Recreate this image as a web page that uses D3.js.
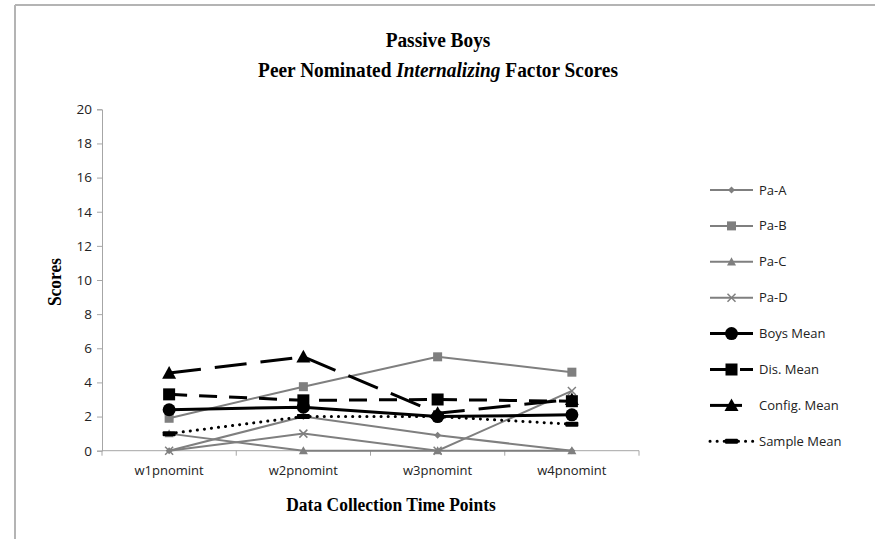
<!DOCTYPE html>
<html>
<head>
<meta charset="utf-8">
<script src="https://cdn.jsdelivr.net/npm/d3@7"></script>
<style>
  html, body { margin: 0; padding: 0; background: #fff; }
  svg { display: block; }
</style>
</head>
<body>
<svg id="chart" width="875" height="539"></svg>
<script>
// Time points and y ticks
const categories = ["w1pnomint", "w2pnomint", "w3pnomint", "w4pnomint"];
const yTicks = [0, 2, 4, 6, 8, 10, 12, 14, 16, 18, 20];

// Series values (peer nominated internalizing factor scores)
const paA = [0, 2.0, 0.9, 0];
const paB = [1.9, 3.75, 5.5, 4.6];
const paC = [1.0, 0, 0, 0];
const paD = [0, 1.0, 0, 3.5];
const boysMean = [2.4, 2.55, 2.0, 2.1];
const disMean = [3.3, 2.95, 3.0, 2.9];
const configMean = [4.55, 5.5, 2.2, 3.0];
const sampleMean = [1.0, 2.0, 2.0, 1.55];

const seriesNames = ["Pa-A", "Pa-B", "Pa-C", "Pa-D", "Boys Mean", "Dis. Mean", "Config. Mean", "Sample Mean"];

const GRAY = "#7f7f7f";
const series = [
  { name: seriesNames[0], values: paA, color: GRAY, width: 2, dash: null, marker: "diamond", size: 7 },
  { name: seriesNames[1], values: paB, color: GRAY, width: 2, dash: null, marker: "square", size: 9 },
  { name: seriesNames[2], values: paC, color: GRAY, width: 2, dash: null, marker: "triangle", size: 9 },
  { name: seriesNames[3], values: paD, color: GRAY, width: 2, dash: null, marker: "x", size: 8 },
  { name: seriesNames[4], values: boysMean, color: "#000", width: 3, dash: null, marker: "circle", size: 13 },
  { name: seriesNames[5], values: disMean, color: "#000", width: 3, dash: "18,12", marker: "square", size: 12 },
  { name: seriesNames[6], values: configMean, color: "#000", width: 3, dash: "32,14", marker: "triangle", size: 14 },
  { name: seriesNames[7], values: sampleMean, color: "#000", width: 3, dash: "0.1,7", cap: "round", marker: "dash", size: 13 }
];

const svg = d3.select("#chart");

// Frame edges
svg.append("line").attr("x1", 15).attr("x2", 875).attr("y1", 5).attr("y2", 5)
  .attr("stroke", "#b4b4b4").attr("stroke-width", 2);
svg.append("line").attr("x1", 15).attr("x2", 15).attr("y1", 5).attr("y2", 539)
  .attr("stroke", "#b4b4b4").attr("stroke-width", 2);

const plot = { left: 102, right: 639, top: 109.3, bottom: 450.7 };

const x = d3.scaleBand().domain(categories).range([plot.left, plot.right]);
const y = d3.scaleLinear().domain([0, 20]).range([plot.bottom, plot.top]);
const cx = c => x(c) + x.bandwidth() / 2;

const tickFont = "'Open Sans', 'Noto Sans', sans-serif";

// Y axis
const yAxis = svg.append("g").attr("transform", `translate(${plot.left},0)`)
  .call(d3.axisLeft(y).tickValues(yTicks).tickSize(5).tickPadding(5));
yAxis.select(".domain").attr("stroke", "#a6a6a6");
yAxis.selectAll(".tick line").attr("stroke", "#a6a6a6");
yAxis.selectAll(".tick text").attr("font-family", tickFont).attr("font-size", 13.5).attr("fill", "#222");

// X axis: ticks between categories
const xAxisG = svg.append("g").attr("transform", `translate(0,${plot.bottom})`);
xAxisG.append("line").attr("x1", plot.left).attr("x2", plot.right).attr("stroke", "#a6a6a6");
const bounds = categories.map(c => x(c)).concat([plot.right]);
xAxisG.selectAll("line.tk").data(bounds).join("line").attr("class", "tk")
  .attr("x1", d => d).attr("x2", d => d).attr("y1", 0).attr("y2", 5).attr("stroke", "#a6a6a6");
xAxisG.selectAll("text").data(categories).join("text")
  .attr("x", d => cx(d)).attr("y", 24).attr("text-anchor", "middle")
  .attr("font-family", tickFont).attr("font-size", 13).attr("fill", "#222").text(d => d);

// Titles
const serif = "'Liberation Serif', 'Times New Roman', serif";
const titleG = svg.append("g").attr("transform", "translate(438,0) scale(0.9,1)");
const title = titleG.append("text").attr("text-anchor", "middle")
  .attr("font-family", serif).attr("font-weight", "bold").attr("font-size", 21.5).attr("fill", "#000");
title.append("tspan").attr("x", 0).attr("y", 47).text("Passive Boys");
const t2 = title.append("tspan").attr("x", 0).attr("y", 77);
t2.append("tspan").text("Peer Nominated ");
t2.append("tspan").attr("font-style", "italic").text("Internalizing");
t2.append("tspan").text(" Factor Scores");

svg.append("text").attr("transform", "translate(61,282) rotate(-90) scale(0.92,1)").attr("text-anchor", "middle")
  .attr("font-family", serif).attr("font-weight", "bold").attr("font-size", 19).text("Scores");
svg.append("text").attr("transform", "translate(391,511) scale(0.92,1)").attr("text-anchor", "middle")
  .attr("font-family", serif).attr("font-weight", "bold").attr("font-size", 19).text("Data Collection Time Points");

// Marker drawing
function drawMarker(g, s, px, py) {
  const h = s.size / 2;
  if (s.marker === "diamond") {
    g.append("path").attr("d", `M${px},${py - h}L${px + h},${py}L${px},${py + h}L${px - h},${py}Z`).attr("fill", s.color);
  } else if (s.marker === "square") {
    g.append("rect").attr("x", px - h).attr("y", py - h).attr("width", s.size).attr("height", s.size).attr("fill", s.color);
  } else if (s.marker === "triangle") {
    g.append("path").attr("d", `M${px},${py - h}L${px + h},${py + h * 0.8}L${px - h},${py + h * 0.8}Z`).attr("fill", s.color);
  } else if (s.marker === "x") {
    g.append("path").attr("d", `M${px - h},${py - h}L${px + h},${py + h}M${px - h},${py + h}L${px + h},${py - h}`)
      .attr("stroke", s.color).attr("stroke-width", 1.5);
  } else if (s.marker === "circle") {
    g.append("circle").attr("cx", px).attr("cy", py).attr("r", h).attr("fill", s.color);
  } else if (s.marker === "dash") {
    g.append("rect").attr("x", px - h).attr("y", py - 2.5).attr("width", s.size).attr("height", 5).attr("rx", 1).attr("fill", s.color);
  }
}

const line = d3.line().x((d, i) => cx(categories[i])).y(d => y(d));

series.forEach(s => {
  const g = svg.append("g");
  g.append("path").datum(s.values).attr("d", line).attr("fill", "none")
    .attr("stroke", s.color).attr("stroke-width", s.width)
    .attr("stroke-dasharray", s.dash).attr("stroke-linecap", s.cap || "butt");
  s.values.forEach((v, i) => drawMarker(g, s, cx(categories[i]), y(v)));
});

// Legend
const legend = svg.append("g");
series.forEach((s, i) => {
  const ly = 190 + i * 35.9;
  const g = legend.append("g");
  g.append("line").attr("x1", 710).attr("x2", 753).attr("y1", ly).attr("y2", ly)
    .attr("stroke", s.color).attr("stroke-width", s.width)
    .attr("stroke-dasharray", s.dash).attr("stroke-linecap", s.cap || "butt");
  drawMarker(g, s, 731.5, ly);
  g.append("text").attr("x", 759).attr("y", ly + 4.5).attr("font-family", tickFont)
    .attr("font-size", 13).attr("fill", "#222").text(s.name);
});
</script>
</body>
</html>
